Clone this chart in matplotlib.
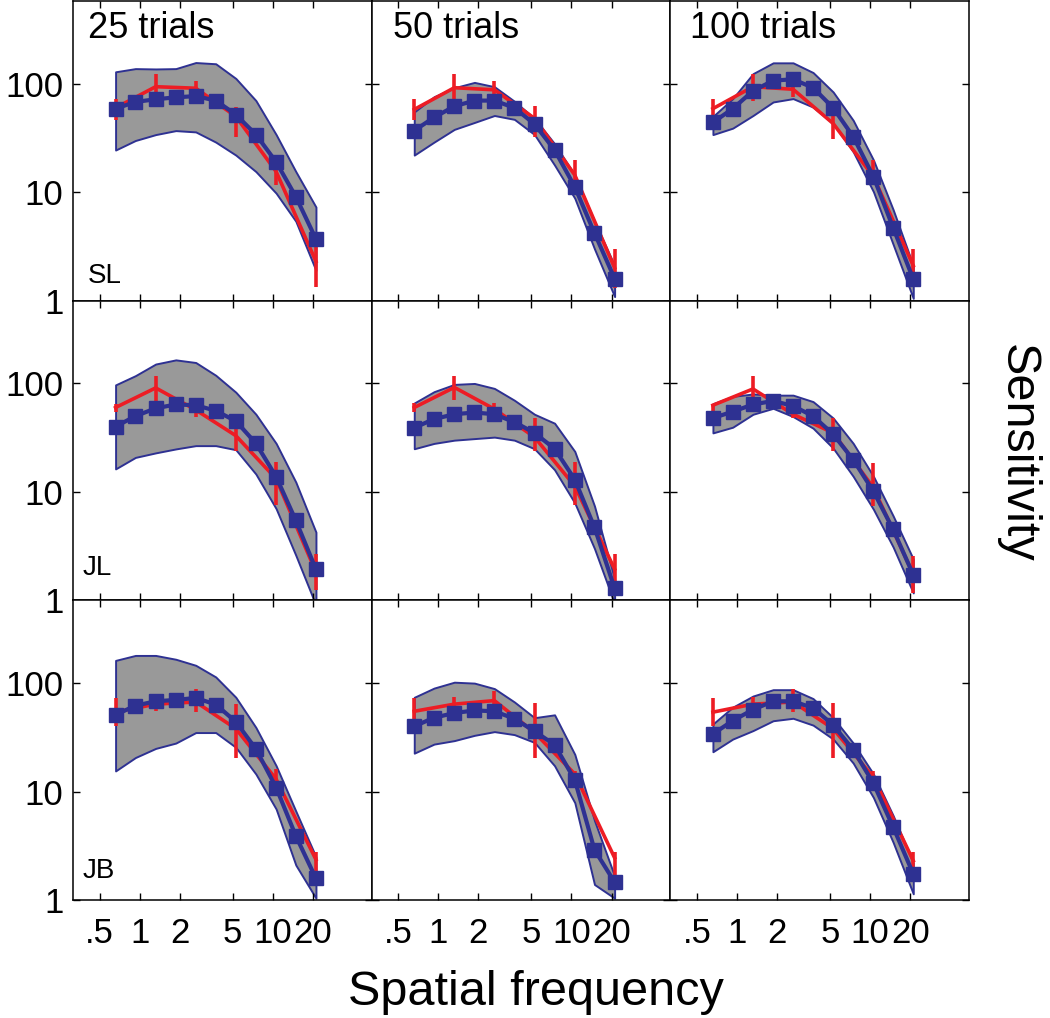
import matplotlib
matplotlib.use('Agg')
import matplotlib.pyplot as plt
from matplotlib.ticker import FixedLocator, FixedFormatter, NullLocator

plt.rcParams['font.family'] = ['Liberation Sans', 'DejaVu Sans']

# spatial frequencies (c/deg) of the model points and of the measured points
freqs = [0.66, 0.93, 1.32, 1.87, 2.64, 3.73, 5.28, 7.47, 10.6, 14.9, 21.1]
red_freqs = [0.66, 1.32, 2.64, 5.28, 10.6, 21.1]

subjects = ['SL', 'JL', 'JB']
trials = ['25 trials', '50 trials', '100 trials']
xticks = [0.5, 1, 2, 5, 10, 20]
xtick_labels = ['.5', '1', '2', '5', '10', '20']
yticks = [1, 10, 100]
ytick_labels = ['1', '10', '100']

# blue: estimated CSF (one list per trial count: 25, 50, 100)
mean_sl = [[59, 68, 72, 75, 77, 70, 52, 34, 19, 9.1, 3.7],
           [37, 49, 62, 70, 70, 60, 42.5, 24.5, 11.2, 4.2, 1.6],
           [44, 59, 86, 107, 110, 92, 60, 32.5, 13.9, 4.7, 1.58]]
mean_jl = [[40, 50, 59, 64, 63, 56, 45, 28, 13.8, 5.45, 1.93],
           [39, 47, 52, 54, 52, 44, 35, 25, 13, 4.7, 1.29],
           [48, 55, 64, 69, 62, 50, 34, 19.8, 10.1, 4.5, 1.72]]
mean_jb = [[51, 62, 68, 70, 73, 63.5, 44, 24.7, 10.9, 3.9, 1.58],
           [40, 48, 53, 56, 55, 47, 36, 27, 12.8, 2.9, 1.46],
           [34, 45, 57, 68, 68, 59, 41, 24.3, 11.9, 4.7, 1.74]]

# grey band: upper / lower bounds
upper_sl = [[129, 138, 137, 138, 157, 153, 112, 70, 34, 15.5, 7.3],
            [55, 76, 92, 103, 94, 69, 48, 28, 14.4, 5.4, 2.1],
            [50, 73, 124, 156, 156, 127, 84, 46, 19.8, 6.9, 2.1]]
lower_sl = [[24.5, 30, 34, 37, 36, 29, 22, 15.5, 9.8, 5.4, 1.9],
            [22, 29, 38, 44, 51, 47, 34, 17.8, 8.8, 3.0, 1.09],
            [34, 39, 51, 68, 73, 61, 43, 23.6, 10.1, 3.3, 1.05]]
upper_jl = [[97, 118, 151, 165, 156, 119, 83, 52, 28, 12.3, 4.25],
            [66, 84, 98, 100, 90, 70, 52, 43, 23.6, 7.4, 1.57],
            [65, 76, 80, 78, 78, 68, 48, 28, 13.9, 6.0, 2.4]]
lower_jl = [[16.3, 20.8, 22.9, 24.9, 26.7, 26.7, 24.5, 14.6, 7.0, 2.6, 0.9],
            [25, 28, 30, 31, 32, 30, 25, 16, 7.9, 3.0, 0.93],
            [35, 39.5, 52, 59, 49.5, 38.7, 25.3, 13.9, 6.9, 3.1, 1.17]]
upper_jb = [[162, 180, 180, 166, 146, 114, 74, 39, 17.3, 6.6, 2.5],
            [74, 90, 102, 100, 89, 67, 48, 51, 22, 5.4, 1.66],
            [42, 60, 76, 87, 87, 72, 48, 28, 14.5, 6.0, 2.2]]
lower_jb = [[15.5, 20.6, 25, 28, 35, 35, 25.6, 14.5, 6.9, 2.1, 1.04],
            [22.6, 27.4, 29.5, 33, 35.7, 33.5, 28.4, 17.3, 7.9, 1.39, 1.04],
            [23.3, 30.5, 36.5, 45, 47.4, 41, 30.5, 18.3, 8.8, 3.4, 1.14]]

# red: measured sensitivity with error bar ends
red_sl = [[60, 94, 91, 50, 15.5, 2.3],
          [58, 92, 88, 48, 14.4, 2.0],
          [59, 94, 89, 43, 13.9, 2.1]]
red_hi_sl = [[73, 124, 107, 61, 17.8, 4.3],
             [73, 124, 107, 62, 20, 3.0],
             [73, 124, 104, 59, 19.8, 3.0]]
red_lo_sl = [[46, 73, 76, 32.5, 11.6, 1.35],
             [46, 69, 73, 32.5, 10.8, 1.3],
             [48, 69, 76, 31, 11.8, 1.5]]
red_jl = [[60, 91, 57, 33, 13.2, 1.82],
          [60, 92, 58, 32, 11.3, 1.94],
          [63, 89, 52, 35, 10.9, 1.74]]
red_hi_jl = [[64.5, 118, 61, 38, 18.8, 2.7],
             [66, 117, 66, 48, 18.7, 2.66],
             [65, 117, 57, 48, 18.5, 2.57]]
red_lo_jl = [[55, 69, 49, 24, 7.5, 1.24],
             [54, 70, 49.5, 23.6, 7.5, 1.46],
             [51, 70, 48, 23.6, 7.4, 1.17]]
red_jb = [[54, 64, 67, 38, 13, 2.36],
          [55, 64, 69, 35, 14.5, 2.45],
          [54, 64, 67, 38, 13.5, 2.3]]
red_hi_jb = [[73, 74, 89, 64, 16.1, 2.8],
             [73, 74, 85, 65, 15.5, 2.8],
             [73, 74, 89, 65, 15.5, 2.8]]
red_lo_jb = [[40.5, 55, 54, 20.6, 9.8, 1.6],
             [41, 56, 61, 20.2, 10.7, 1.6],
             [40.5, 55, 54, 20.2, 10.9, 1.66]]

means = [mean_sl, mean_jl, mean_jb]
uppers = [upper_sl, upper_jl, upper_jb]
lowers = [lower_sl, lower_jl, lower_jb]
reds = [red_sl, red_jl, red_jb]
red_his = [red_hi_sl, red_hi_jl, red_hi_jb]
red_los = [red_lo_sl, red_lo_jl, red_lo_jb]

BLUE = '#2e3192'
RED = '#ed1c24'
GREY = '#999999'

fig, axes = plt.subplots(3, 3, figsize=(10.5, 10.18), dpi=100)
fig.subplots_adjust(left=73/1050, right=969/1050, top=1-1/1018,
                    bottom=1-900/1018, wspace=0, hspace=0)

subj_pos = [(0.05, 0.06), (0.033, 0.085), (0.033, 0.075)]
title_x = [0.05, 0.07, 0.067]

for r in range(3):
    for c in range(3):
        ax = axes[r, c]
        ax.fill_between(freqs, lowers[r][c], uppers[r][c], facecolor=GREY,
                        edgecolor=BLUE, linewidth=1.4, zorder=1)
        red = reds[r][c]
        yerr = [[v - lo for v, lo in zip(red, red_los[r][c])],
                [hi - v for v, hi in zip(red, red_his[r][c])]]
        ax.errorbar(red_freqs, red, yerr=yerr, color=RED, lw=2.6,
                    elinewidth=2.6, capsize=0, zorder=2)
        ax.plot(freqs, means[r][c], '-s', color=BLUE, lw=3.0, ms=10, zorder=3)

        ax.set_xscale('log')
        ax.set_yscale('log')
        ax.set_xlim(0.316, 55.3)
        ax.set_ylim(1, 580)
        ax.xaxis.set_major_locator(FixedLocator(xticks))
        ax.xaxis.set_minor_locator(NullLocator())
        ax.yaxis.set_major_locator(FixedLocator(yticks))
        ax.yaxis.set_minor_locator(NullLocator())
        ax.xaxis.set_major_formatter(FixedFormatter(xtick_labels))
        ax.yaxis.set_major_formatter(FixedFormatter(ytick_labels))
        ax.tick_params(which='both', direction='in', top=True, right=True,
                       length=5, width=1, labelsize=25)
        ax.tick_params(axis='x', pad=12)
        ax.tick_params(axis='y', pad=7)
        for s in ax.spines.values():
            s.set_linewidth(1.1)
        if r < 2:
            ax.tick_params(labelbottom=False)
        if c > 0:
            ax.tick_params(labelleft=False)
        if r == 0:
            ax.text(title_x[c], 0.875, trials[c], transform=ax.transAxes,
                    fontsize=26, ha='left', va='baseline')
        if c == 0:
            ax.text(subj_pos[r][0], subj_pos[r][1], subjects[r],
                    transform=ax.transAxes, fontsize=20, ha='left',
                    va='baseline')

fig.text(536/1050, 0.013, 'Spatial frequency', fontsize=35, ha='center',
         va='baseline')
fig.text(1017/1050, 1-453/1018, 'Sensitivity', fontsize=35, rotation=-90,
         ha='center', va='center')

fig.savefig('out.png', dpi=100)
